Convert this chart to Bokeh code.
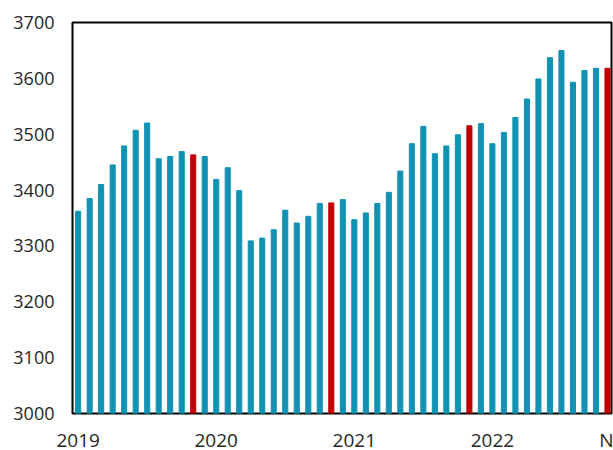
from bokeh.plotting import figure
from bokeh.layouts import column
from bokeh.models import ColumnDataSource, FixedTicker, Range1d
from bokeh.embed import file_html
from bokeh.resources import INLINE

# Monthly values Jan 2019 .. Nov 2022
values = [3362, 3385, 3410, 3445, 3479, 3507, 3520, 3456, 3460, 3469, 3463, 3460,
          3419, 3440, 3399, 3309, 3314, 3329, 3364, 3341, 3353, 3376, 3377, 3383,
          3347, 3359, 3376, 3396, 3434, 3483, 3514, 3465, 3479, 3499, 3515, 3519,
          3483, 3503, 3530, 3563, 3599, 3637, 3650, 3593, 3614, 3618, 3618]
highlight_idx = [10, 22, 34, 46]  # November bars
tick_pos = [0, 12, 24, 36, 46]
tick_labels = ["2019", "2020", "2021", "2022", "N"]
y_ticks = [3000, 3100, 3200, 3300, 3400, 3500, 3600, 3700]

BLUE = "#1192B3"
RED = "#C00000"
TEXT = "#262626"

x = list(range(len(values)))
colors = [RED if i in highlight_idx else BLUE for i in x]
src = ColumnDataSource(dict(x=x, top=values, color=colors))

p = figure(width=613, height=455, output_backend="svg", toolbar_location=None,
           x_range=Range1d(-0.49, 46.35), y_range=Range1d(3000, 3700),
           min_border_left=72, min_border_right=2, min_border_top=22, min_border_bottom=30)

p.vbar(x="x", top="top", bottom=3000, width=0.44, color="color", source=src)

p.outline_line_color = "black"
p.outline_line_width = 2
p.xgrid.visible = False
p.ygrid.visible = False

for ax in (p.xaxis, p.yaxis):
    ax.axis_line_color = None
    ax.major_tick_line_color = None
    ax.minor_tick_line_color = None
    ax.major_tick_out = 0
    ax.major_tick_in = 0
    ax.major_label_text_font = "Open Sans"
    ax.major_label_text_color = TEXT

p.yaxis.ticker = FixedTicker(ticks=y_ticks)
p.yaxis.major_label_text_font_size = "18px"
p.yaxis.major_label_standoff = 18

p.xaxis.ticker = FixedTicker(ticks=tick_pos)
p.xaxis.major_label_overrides = {t: l for t, l in zip(tick_pos, tick_labels)}
p.xaxis.major_label_text_font_size = "19px"
p.xaxis.major_label_standoff = 13

# the original picture is cropped at its bottom edge: clip the page to 450px
layout = column(p, styles={"overflow": "hidden", "max-height": "450px"})
open("out.html", "w").write(file_html(layout, INLINE))
